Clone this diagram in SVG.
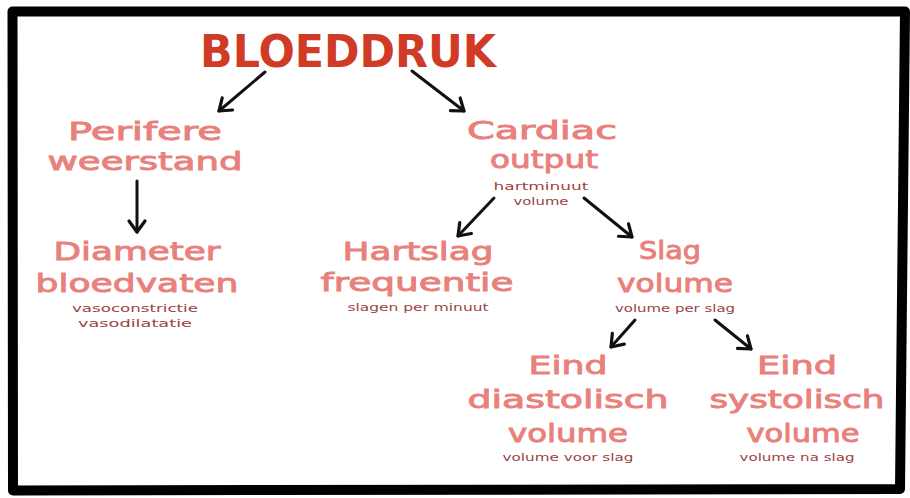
<svg xmlns="http://www.w3.org/2000/svg" width="910" height="498" viewBox="0 0 910 498">
  <defs>
    <marker id="head" markerUnits="userSpaceOnUse" markerWidth="24" markerHeight="24" viewBox="-14 -12 24 24" refX="0" refY="0" orient="auto">
      <path d="M -11 -8 L 0 0 L -11 8" fill="none" stroke="#111" stroke-width="3.2" stroke-linecap="round" stroke-linejoin="round"/>
    </marker>
    <style>
      .title { font-family: "DejaVu Sans", "Liberation Sans", sans-serif; font-weight: bold; font-size: 44px; fill: #cf3b25; text-anchor: middle; }
      .big { font-family: "DejaVu Sans", "Open Sans", sans-serif; font-size: 25px; fill: #e8817c; stroke: #e8817c; stroke-width: 0.9; text-anchor: middle; }
      .small { font-family: "DejaVu Sans", "Open Sans", sans-serif; font-size: 11px; fill: #9c4444; text-anchor: middle; }
      .arrow { fill: none; stroke: #111; stroke-width: 3; stroke-linecap: round; marker-end: url(#head); }
    </style>
  </defs>

  <rect x="0" y="0" width="910" height="498" fill="#ffffff"/>

  <!-- hand-drawn frame -->
  <path d="M 12.5 11.5 L 905 11.5 L 900 489 L 13 490.5 Z" fill="none" stroke="#000" stroke-width="10" stroke-linejoin="round"/>

  <g id="bloeddruk">
    <text class="title" x="348" y="67" textLength="296" lengthAdjust="spacingAndGlyphs">BLOEDDRUK</text>
  </g>

  <g id="perifere-weerstand">
    <text class="big" x="145" y="140" textLength="154" lengthAdjust="spacingAndGlyphs">Perifere</text>
    <text class="big" x="145" y="170" textLength="195" lengthAdjust="spacingAndGlyphs">weerstand</text>
  </g>

  <g id="diameter-bloedvaten">
    <text class="big" x="137" y="260" textLength="167" lengthAdjust="spacingAndGlyphs">Diameter</text>
    <text class="big" x="137" y="292" textLength="203" lengthAdjust="spacingAndGlyphs">bloedvaten</text>
    <text class="small" x="135" y="312" textLength="126" lengthAdjust="spacingAndGlyphs">vasoconstrictie</text>
    <text class="small" x="135" y="327" textLength="114" lengthAdjust="spacingAndGlyphs">vasodilatatie</text>
  </g>

  <g id="cardiac-output">
    <text class="big" x="542" y="139" textLength="150" lengthAdjust="spacingAndGlyphs">Cardiac</text>
    <text class="big" x="544" y="168" textLength="108" lengthAdjust="spacingAndGlyphs">output</text>
    <text class="small" x="541" y="190" textLength="95" lengthAdjust="spacingAndGlyphs">hartminuut</text>
    <text class="small" x="541" y="205" textLength="55" lengthAdjust="spacingAndGlyphs">volume</text>
  </g>

  <g id="hartslag-frequentie">
    <text class="big" x="418" y="260" textLength="151" lengthAdjust="spacingAndGlyphs">Hartslag</text>
    <text class="big" x="417" y="291" textLength="193" lengthAdjust="spacingAndGlyphs">frequentie</text>
    <text class="small" x="418" y="311" textLength="141" lengthAdjust="spacingAndGlyphs">slagen per minuut</text>
  </g>

  <g id="slag-volume">
    <text class="big" x="670" y="259" textLength="62" lengthAdjust="spacingAndGlyphs">Slag</text>
    <text class="big" x="675" y="292" textLength="116" lengthAdjust="spacingAndGlyphs">volume</text>
    <text class="small" x="675" y="312" textLength="120" lengthAdjust="spacingAndGlyphs">volume per slag</text>
  </g>

  <g id="eind-diastolisch-volume">
    <text class="big" x="568" y="374" textLength="79" lengthAdjust="spacingAndGlyphs">Eind</text>
    <text class="big" x="568" y="408" textLength="201" lengthAdjust="spacingAndGlyphs">diastolisch</text>
    <text class="big" x="568" y="442" textLength="120" lengthAdjust="spacingAndGlyphs">volume</text>
    <text class="small" x="568" y="461" textLength="131" lengthAdjust="spacingAndGlyphs">volume voor slag</text>
  </g>

  <g id="eind-systolisch-volume">
    <text class="big" x="797" y="374" textLength="80" lengthAdjust="spacingAndGlyphs">Eind</text>
    <text class="big" x="797" y="408" textLength="175" lengthAdjust="spacingAndGlyphs">systolisch</text>
    <text class="big" x="803" y="442" textLength="113" lengthAdjust="spacingAndGlyphs">volume</text>
    <text class="small" x="797" y="461" textLength="115" lengthAdjust="spacingAndGlyphs">volume na slag</text>
  </g>

  <g id="connectors">
    <line class="arrow" x1="265" y1="72" x2="219" y2="111"/>
    <line class="arrow" x1="412" y1="71" x2="464" y2="111"/>
    <line class="arrow" x1="137" y1="181" x2="137" y2="232"/>
    <line class="arrow" x1="494" y1="198" x2="458" y2="236"/>
    <line class="arrow" x1="584" y1="198" x2="632" y2="237"/>
    <line class="arrow" x1="635" y1="320" x2="611" y2="347"/>
    <line class="arrow" x1="715" y1="320" x2="751" y2="349"/>
  </g>
</svg>
